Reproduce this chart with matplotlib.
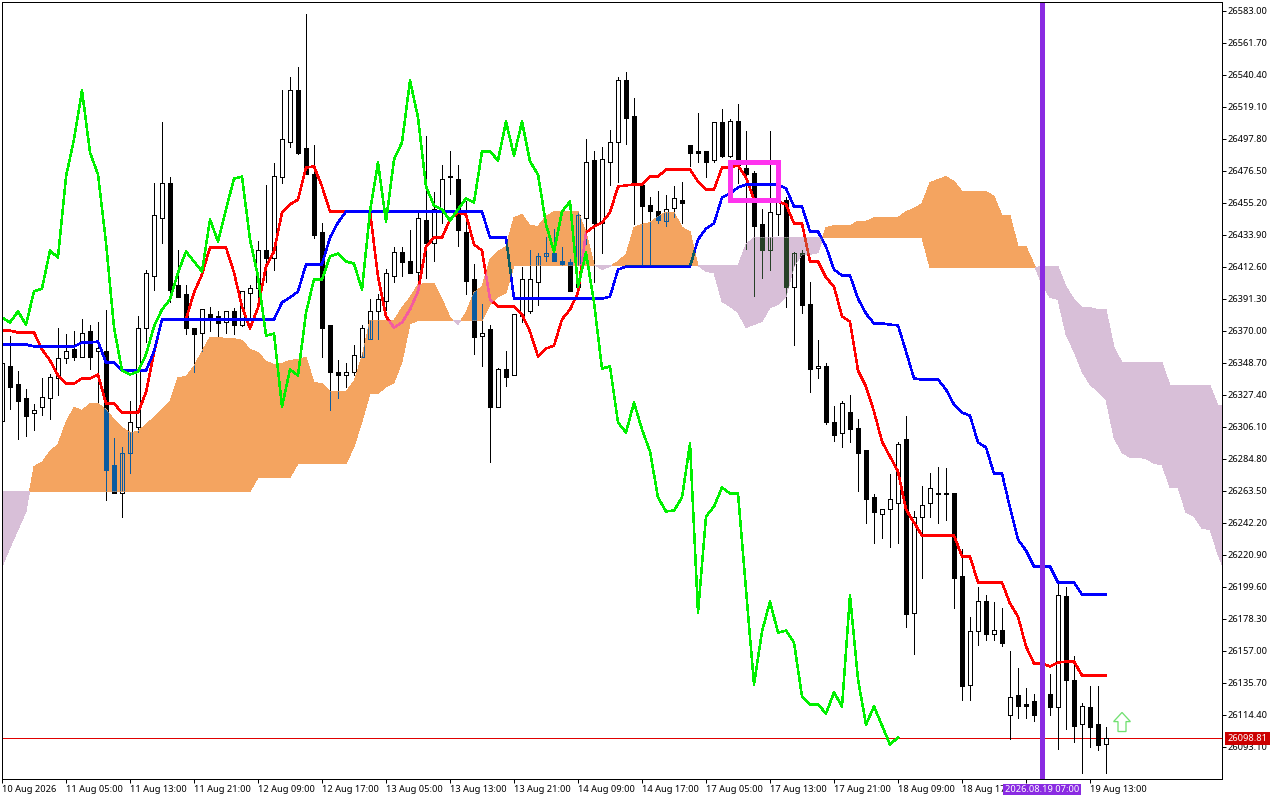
import numpy as np
import matplotlib
matplotlib.use("Agg")
import matplotlib.pyplot as plt
from matplotlib.path import Path
from matplotlib.patches import Rectangle, Polygon

plt.rcParams['font.family'] = ['Noto Sans', 'DejaVu Sans']

opens = [26310.4,26346.4,26334.4,26325.1,26315.1,26319.1,26325.1,26339.0,26351.7,26357.7,
 26353.0,26369.7,26356.4,26357.0,26280.5,26262.5,26289.1,26306.4,26372.3,26406.9,
 26445.5,26468.2,26400.3,26394.3,26372.3,26369.0,26381.6,26379.7,26375.7,26383.6,
 26374.3,26395.6,26398.3,26424.2,26418.9,26472.2,26495.5,26530.7,26491.5,26474.8,
 26435.6,26373.7,26343.0,26340.4,26342.4,26353.0,26365.0,26383.0,26390.3,26406.9,
 26422.9,26416.9,26409.6,26444.2,26428.9,26450.9,26472.2,26471.5,26436.2,26404.9,
 26367.0,26371.0,26319.1,26345.0,26341.0,26379.7,26383.0,26402.9,26419.6,26421.6,
 26416.9,26415.6,26399.0,26445.5,26483.5,26442.2,26482.8,26495.5,26537.4,26513.4,
 26467.5,26454.2,26450.2,26442.9,26452.2,26456.9,26493.5,26489.5,26489.5,26483.5,
 26509.4,26486.8,26510.1,26478.8,26475.5,26440.9,26423.6,26448.2,26457.5,26399.6,
 26421.6,26388.3,26345.7,26347.0,26309.7,26301.8,26316.4,26305.7,26290.5,26259.8,
 26248.5,26251.2,26255.8,26298.4,26182.6,26246.5,26255.2,26262.5,26262.5,26262.5,
 26206.6,26134.7,26170.6,26190.6,26168.6,26171.3,26114.7,26128.0,26122.0,26123.4,
 26124.7,26128.7,26119.4,26193.3,26137.4,26108.1,26120.0,26108.1,26095.4]
highs = [26348.4,26367.0,26343.7,26331.1,26321.1,26339.0,26341.7,26372.3,26368.3,26369.7,
 26378.3,26373.7,26375.7,26384.3,26299.1,26293.1,26323.1,26379.7,26410.9,26468.2,
 26508.8,26472.8,26424.2,26400.3,26372.3,26384.9,26386.3,26383.6,26383.6,26385.6,
 26396.9,26400.9,26429.6,26466.9,26481.5,26530.7,26539.4,26545.4,26581.3,26493.5,
 26441.6,26374.3,26351.0,26349.0,26361.0,26374.3,26391.6,26394.9,26411.6,26425.6,
 26425.6,26436.9,26448.9,26500.1,26462.2,26480.2,26490.1,26480.2,26456.2,26414.9,
 26388.3,26374.3,26345.7,26357.0,26381.0,26412.3,26423.6,26422.2,26432.9,26437.6,
 26425.6,26417.6,26449.5,26497.5,26490.1,26492.8,26504.1,26539.4,26542.1,26525.4,
 26468.8,26459.5,26463.5,26460.2,26466.2,26469.5,26494.1,26515.4,26489.5,26509.4,
 26518.1,26510.8,26520.8,26502.8,26476.8,26451.5,26502.8,26458.9,26459.5,26422.9,
 26423.6,26402.9,26363.7,26349.0,26320.4,26323.1,26327.7,26311.7,26291.1,26261.8,
 26251.2,26275.1,26296.4,26313.1,26249.9,26266.5,26275.8,26279.8,26279.1,26262.5,
 26224.6,26179.9,26199.3,26194.6,26189.9,26185.9,26157.3,26146.0,26132.7,26128.7,
 26131.4,26142.0,26202.6,26199.3,26154.0,26122.7,26133.4,26133.4,26106.7]
lows = [26310.4,26318.4,26297.8,26299.8,26304.4,26314.4,26311.1,26327.1,26349.0,26351.0,
 26352.4,26344.4,26322.4,26257.2,26262.0,26246.5,26275.8,26303.1,26363.0,26397.6,
 26428.9,26389.0,26392.3,26367.7,26342.4,26356.4,26369.7,26367.0,26369.0,26368.3,
 26373.0,26379.0,26392.9,26402.9,26410.3,26468.2,26492.8,26487.5,26474.2,26432.2,
 26353.0,26317.7,26325.7,26332.4,26341.0,26353.0,26365.0,26365.0,26384.3,26402.9,
 26406.9,26408.3,26399.6,26405.6,26416.9,26442.2,26460.9,26426.9,26394.3,26355.0,
 26347.0,26282.5,26319.1,26333.7,26341.0,26375.7,26382.3,26387.6,26416.3,26416.3,
 26413.6,26396.9,26399.0,26427.6,26402.9,26421.6,26466.9,26469.5,26494.8,26440.9,
 26413.6,26413.6,26442.2,26439.6,26446.2,26441.6,26479.5,26482.2,26472.2,26482.2,
 26485.5,26485.5,26468.2,26424.9,26393.6,26405.6,26410.9,26433.6,26386.3,26361.0,
 26382.3,26329.7,26339.0,26308.4,26297.1,26292.5,26296.4,26263.2,26242.5,26228.6,
 26231.9,26226.5,26229.2,26173.3,26154.7,26205.9,26245.9,26241.9,26243.9,26185.9,
 26124.7,26124.7,26161.3,26164.0,26164.0,26160.0,26098.7,26112.1,26112.1,26110.7,
 26101.4,26114.1,26092.1,26105.4,26096.1,26076.1,26093.4,26090.8,26075.5]
closes = [26348.4,26333.0,26323.7,26313.7,26317.7,26326.4,26339.7,26351.7,26356.4,26352.4,
 26369.0,26352.4,26359.0,26277.8,26262.5,26289.1,26309.1,26372.3,26408.3,26447.5,
 26468.2,26397.6,26392.9,26371.7,26368.3,26384.9,26377.7,26375.0,26383.6,26373.7,
 26396.3,26398.3,26424.2,26418.3,26473.5,26497.5,26530.7,26488.8,26474.8,26433.6,
 26372.3,26342.4,26340.4,26343.0,26353.7,26372.3,26383.6,26391.0,26408.3,26422.9,
 26415.6,26408.9,26444.9,26428.9,26451.5,26471.5,26473.5,26436.9,26403.6,26366.3,
 26369.0,26319.1,26345.0,26339.7,26381.0,26404.9,26404.3,26419.6,26421.6,26416.3,
 26414.3,26396.9,26447.5,26482.8,26442.2,26484.2,26495.5,26537.4,26512.1,26468.2,
 26452.9,26450.2,26444.2,26450.9,26458.2,26454.9,26488.8,26488.8,26482.8,26509.4,
 26486.8,26510.1,26480.8,26474.8,26439.6,26423.6,26449.5,26456.2,26399.6,26422.2,
 26387.6,26345.0,26347.0,26309.1,26301.1,26322.4,26305.1,26288.5,26258.5,26249.2,
 26251.2,26258.5,26295.1,26181.9,26246.5,26254.5,26265.8,26261.8,26261.2,26205.9,
 26134.0,26170.6,26190.6,26168.6,26171.3,26162.6,26126.7,26120.7,26120.7,26114.7,
 26116.7,26119.4,26194.6,26137.4,26107.4,26120.7,26106.7,26094.1,26098.8]

tenkan = [26370.3,26370.3,26369.0,26369.0,26369.0,26357.7,26350.4,26340.4,26335.0,26335.0,
 26338.4,26338.4,26341.0,26321.7,26321.7,26315.7,26315.7,26315.7,26329.1,26355.7,
 26377.7,26377.7,26377.7,26377.7,26395.6,26407.6,26425.6,26425.6,26425.6,26408.9,
 26386.3,26371.7,26385.6,26412.9,26422.9,26448.9,26454.2,26457.5,26478.8,26479.5,
 26466.2,26449.5,26449.5,26449.5,26449.5,26449.5,26449.5,26406.3,26379.7,26372.3,
 26375.7,26384.3,26396.3,26426.2,26432.2,26432.2,26444.2,26448.9,26447.5,26427.6,
 26423.6,26391.0,26386.3,26386.3,26386.3,26381.0,26369.7,26353.0,26358.3,26360.3,
 26377.7,26384.3,26395.6,26435.6,26439.6,26442.2,26448.9,26466.2,26466.9,26467.5,
 26467.5,26472.8,26472.8,26477.5,26477.5,26477.5,26477.5,26469.5,26464.2,26464.2,
 26478.8,26478.8,26480.2,26472.2,26457.5,26457.5,26456.9,26456.2,26454.2,26441.6,
 26441.6,26416.3,26416.3,26405.6,26399.6,26379.7,26376.3,26343.7,26333.0,26316.4,
 26296.4,26286.5,26276.5,26251.2,26242.5,26233.9,26233.9,26233.9,26233.9,26233.9,
 26219.9,26219.9,26202.6,26202.6,26202.6,26202.6,26188.6,26179.9,26160.0,26148.7,
 26148.7,26146.7,26149.3,26150.0,26150.0,26140.7,26140.7,26140.7,26140.7]
kijun = [26361.0,26361.0,26361.0,26361.0,26359.7,26359.7,26359.7,26359.7,26359.7,26359.7,
 26362.3,26362.3,26363.0,26349.0,26349.0,26343.7,26343.7,26343.7,26343.7,26356.4,
 26377.7,26377.7,26377.7,26377.7,26377.7,26377.7,26377.7,26377.7,26377.7,26377.7,
 26377.7,26377.7,26377.7,26377.7,26377.7,26389.0,26392.3,26396.3,26414.3,26414.3,
 26414.3,26432.2,26442.2,26449.5,26449.5,26449.5,26449.5,26449.5,26449.5,26449.5,
 26449.5,26449.5,26449.5,26449.5,26449.5,26449.5,26449.5,26449.5,26449.5,26449.5,
 26449.5,26432.2,26432.2,26432.2,26391.6,26391.6,26391.6,26391.6,26391.6,26391.6,
 26391.6,26391.6,26391.6,26391.6,26391.6,26391.6,26392.9,26410.9,26412.9,26412.9,
 26412.9,26412.9,26412.9,26412.9,26412.9,26412.9,26412.9,26430.9,26438.2,26441.6,
 26458.9,26461.5,26465.5,26467.5,26467.5,26467.5,26467.5,26467.5,26464.8,26452.9,
 26452.9,26436.2,26436.2,26426.2,26410.9,26406.9,26406.9,26391.6,26381.6,26375.0,
 26375.0,26374.3,26373.7,26356.4,26338.4,26337.7,26337.7,26337.7,26331.1,26321.1,
 26315.7,26313.7,26295.8,26292.5,26275.1,26275.1,26252.5,26231.2,26223.9,26213.2,
 26213.2,26213.2,26202.6,26202.6,26202.6,26194.6,26194.6,26194.6,26194.6]
chikou = [26379.0,26375.7,26383.0,26374.3,26396.3,26398.3,26423.6,26418.9,26472.8,26497.5,
 26530.1,26488.8,26474.2,26428.9,26372.3,26343.7,26341.0,26343.0,26354.3,26373.0,
 26384.3,26391.0,26408.9,26422.9,26416.3,26409.6,26444.2,26429.6,26450.9,26471.5,
 26472.8,26430.9,26406.3,26367.0,26368.3,26319.7,26344.4,26340.4,26382.3,26404.3,
 26404.3,26419.6,26421.6,26416.3,26414.9,26397.6,26449.5,26482.2,26442.9,26484.2,
 26495.5,26536.7,26512.1,26466.2,26453.5,26450.9,26443.5,26450.9,26458.2,26455.5,
 26489.5,26489.5,26483.5,26509.4,26486.8,26509.4,26482.8,26474.2,26440.9,26422.9,
 26449.5,26456.2,26399.6,26422.2,26389.0,26345.0,26346.4,26309.1,26302.4,26322.4,
 26304.4,26289.8,26259.2,26249.9,26250.5,26259.2,26295.1,26182.6,26246.5,26253.2,
 26265.8,26261.8,26261.8,26197.9,26134.7,26170.0,26189.9,26169.3,26170.6,26162.7,
 26126.7,26121.4,26121.4,26115.4,26129.4,26120.1,26193.9,26138.0,26108.1,26120.1,
 26107.4,26094.8,26099.4]
span_a = [26213.2,26225.9,26237.9,26249.9,26279.8,26282.5,26289.8,26294.5,26309.1,26319.1,
 26317.1,26321.7,26321.7,26317.7,26311.1,26305.7,26302.4,26303.1,26307.8,26312.4,
 26317.7,26323.1,26339.0,26339.7,26346.4,26356.4,26365.7,26365.7,26365.0,26365.0,
 26363.7,26357.7,26355.7,26349.7,26347.7,26348.4,26350.4,26351.0,26352.4,26335.7,
 26335.0,26329.7,26329.7,26329.7,26336.4,26353.0,26377.0,26377.0,26377.0,26377.0,
 26385.6,26392.3,26400.9,26401.6,26401.6,26391.0,26379.0,26374.3,26382.3,26395.6,
 26399.6,26417.6,26422.9,26426.2,26445.5,26447.5,26440.2,26439.6,26446.2,26449.5,
 26449.5,26449.5,26449.5,26435.6,26414.3,26410.9,26412.9,26416.3,26420.9,26438.9,
 26440.9,26442.2,26446.2,26448.9,26448.9,26438.9,26436.2,26413.6,26409.6,26408.9,
 26389.6,26386.3,26382.3,26372.3,26374.3,26376.3,26385.6,26387.6,26392.9,26412.9,
 26420.9,26420.9,26422.2,26438.9,26440.2,26440.2,26440.2,26442.9,26442.9,26445.5,
 26445.5,26445.5,26445.5,26449.5,26451.5,26454.9,26468.8,26470.8,26472.8,26469.5,
 26462.9,26462.9,26462.9,26462.9,26459.5,26446.9,26446.9,26426.2,26426.2,26414.3,
 26400.9,26392.3,26391.0,26367.7,26356.4,26343.0,26334.4,26329.7,26324.4,26299.1,
 26289.1,26285.8,26285.8,26285.1,26281.8,26281.1,26265.8,26265.8,26249.2,26246.5,
 26238.5,26237.9,26221.2,26207.9]
span_b = [26263.2,26263.2,26263.2,26263.2,26263.2,26263.2,26263.2,26263.2,26263.2,26263.2,
 26263.2,26263.2,26263.2,26263.2,26263.2,26263.2,26263.2,26263.2,26263.2,26263.2,
 26263.2,26263.2,26263.2,26263.2,26263.2,26263.2,26263.2,26263.2,26263.2,26263.2,
 26263.2,26263.2,26272.5,26272.5,26272.5,26272.5,26272.5,26281.8,26281.8,26281.8,
 26281.8,26281.8,26281.8,26281.8,26293.1,26309.8,26328.4,26328.4,26333.0,26335.7,
 26349.7,26374.9,26377.0,26377.0,26377.0,26377.0,26377.0,26377.0,26377.0,26377.0,
 26377.0,26387.6,26392.9,26395.6,26413.6,26413.6,26413.6,26413.6,26413.6,26413.6,
 26413.6,26413.6,26413.6,26413.6,26413.6,26413.6,26413.6,26413.6,26413.6,26413.6,
 26413.6,26413.6,26413.6,26413.6,26413.6,26413.6,26413.6,26413.6,26413.6,26413.6,
 26413.6,26413.6,26413.6,26427.6,26432.2,26432.2,26432.2,26432.2,26432.2,26432.2,
 26432.2,26432.2,26432.2,26432.2,26432.2,26432.2,26432.2,26432.2,26432.2,26432.2,
 26432.2,26432.2,26432.2,26432.2,26432.2,26432.2,26412.2,26412.2,26412.2,26412.2,
 26412.2,26412.2,26412.2,26412.2,26412.2,26412.2,26412.2,26412.2,26412.2,26412.2,
 26412.9,26412.9,26412.9,26399.6,26391.0,26385.6,26385.6,26384.3,26384.3,26359.0,
 26349.0,26349.0,26349.0,26349.0,26349.0,26349.0,26333.7,26333.7,26333.7,26333.7,
 26333.7,26333.7,26320.4,26320.4]

ytick_values = [26583.00,26561.70,26540.40,26519.10,26497.80,26476.50,26455.20,26433.90,
 26412.60,26391.30,26370.00,26348.70,26327.40,26306.10,26284.80,26263.50,26242.20,
 26220.90,26199.60,26178.30,26157.00,26135.70,26114.40,26093.10]
xtick_labels = ['10 Aug 2026','11 Aug 05:00','11 Aug 13:00','11 Aug 21:00','12 Aug 09:00',
 '12 Aug 17:00','13 Aug 05:00','13 Aug 13:00','13 Aug 21:00','14 Aug 09:00','14 Aug 17:00',
 '17 Aug 05:00','17 Aug 13:00','17 Aug 21:00','18 Aug 09:00','18 Aug 17:00','19 Aug 05:00','19 Aug 13:00']
last_price = 26098.81
signal_bar = 130
signal_label = '2026.08.19 07:00'
box_bars = (91, 97)
box_prices = (26457.1, 26482.8)
arrow_bar = 140
arrow_prices = (26103.4, 26116.1)

PX = 0.72  # one pixel in points at dpi 100
ORANGE, THISTLE = '#F4A460', '#D8BFD8'
o, h, l, c = map(np.array, (opens, highs, lows, closes))
xs = np.arange(len(o))

fig = plt.figure(figsize=(12.8, 8), dpi=100, facecolor='white')
ax = fig.add_axes([2.0/1280, 1-779/800, 1220/1280, 777/800])
ax.set_xlim(0, 152.5)
ax.set_ylim(26071.8, 26588.99)


def draw_candles(edge, white_face, clip=None, z=3):
    arts = [ax.vlines(xs, l, h, colors=edge, linewidth=PX, antialiased=False, zorder=z)]
    up = c >= o
    top, bot = np.maximum(o, c), np.minimum(o, c)
    dn_b = ax.bar(xs[~up], (top-bot)[~up], 0.5, bottom=bot[~up], facecolor=edge, edgecolor=edge,
                  linewidth=PX, antialiased=False, zorder=z)
    up_b = ax.bar(xs[up], (top-bot)[up], 0.5, bottom=bot[up], facecolor=white_face, edgecolor=edge,
                  linewidth=PX, antialiased=False, zorder=z+0.1)
    arts += list(dn_b) + list(up_b)
    if clip is not None:
        for a in arts:
            a.set_clip_path(clip, ax.transData)


def draw_line(y, color, clip=None, z=6):
    ln, = ax.plot(np.arange(len(y)), y, color=color, lw=1.5*PX, antialiased=False, zorder=z,
                  solid_joinstyle='round')
    if clip is not None:
        ln.set_clip_path(clip, ax.transData)


ax.axhline(last_price, color='#E00000', lw=PX, antialiased=False, zorder=2.5)

draw_candles('black', 'white', z=3)

a, b = np.array(span_a), np.array(span_b)
xc = np.arange(len(a))
bull = ax.fill_between(xc, a, b, where=a >= b, interpolate=True, color=ORANGE, lw=0, antialiased=False, zorder=4)
bear = ax.fill_between(xc, a, b, where=a <= b, interpolate=True, color=THISTLE, lw=0, antialiased=False, zorder=4)
bull_path = Path.make_compound_path(*bull.get_paths())
bear_path = Path.make_compound_path(*bear.get_paths())

draw_candles('#0B5B9F', 'none', clip=bull_path, z=5)
draw_candles('#274027', 'none', clip=bear_path, z=5)

draw_line(tenkan, '#FF0000', z=6)
draw_line(kijun, '#0000FF', z=6.2)
draw_line(tenkan, '#F45B9F', clip=bull_path, z=6.1)
draw_line(kijun, '#0B5B60', clip=bull_path, z=6.3)
draw_line(tenkan, '#D84027', clip=bear_path, z=6.1)
draw_line(kijun, '#2740D8', clip=bear_path, z=6.3)
draw_line(chikou, '#00F000', z=6.5)

ax.add_patch(Rectangle((box_bars[0], box_prices[0]), box_bars[1]-box_bars[0], box_prices[1]-box_prices[0],
                       fill=False, edgecolor='#FF33EE', linewidth=4.5*PX, antialiased=False,
                       joinstyle='miter', zorder=8))

al, at = arrow_prices
head = al + (at-al)*0.52
ax.add_patch(Polygon([(arrow_bar-0.5, al), (arrow_bar+0.5, al), (arrow_bar+0.5, head), (arrow_bar+1.05, head),
                      (arrow_bar, at), (arrow_bar-1.05, head), (arrow_bar-0.5, head)], closed=True,
                     facecolor='white', edgecolor='#70E070', linewidth=1.3*PX, zorder=8))

ax.axvline(signal_bar, color='#8A2BE2', lw=5*PX, antialiased=False, zorder=9)

for s in ax.spines.values():
    s.set_linewidth(PX)
    s.set_color('black')
    s.set_zorder(10)

ax.yaxis.tick_right()
ax.set_yticks(ytick_values)
ax.set_yticklabels([f'{v:.2f}' for v in ytick_values], fontsize=6.7)
ax.tick_params(axis='y', direction='out', length=4*PX, width=PX, pad=0.8)
ax.set_xticks(np.arange(len(xtick_labels))*8)
ax.set_xticklabels(xtick_labels, fontsize=6.7, ha='left')
ax.tick_params(axis='x', direction='out', length=4*PX, width=PX, pad=1.2)
ax.get_xticklabels()[-2].set_visible(False)

ax.text(1.0208, last_price, f'{last_price:.2f}', transform=ax.get_yaxis_transform(), color='white',
        fontsize=6.7, ha='center', va='center', clip_on=False, zorder=12,
        bbox=dict(facecolor='#CC0000', edgecolor='none', pad=1.6))
ax.text(signal_bar, -0.0135, signal_label, transform=ax.get_xaxis_transform(), color='white',
        fontsize=6.7, ha='center', va='center', clip_on=False, zorder=12,
        bbox=dict(facecolor='#8A2BE2', edgecolor='none', pad=1.0))

fig.savefig('out.png', dpi=100, facecolor='white')
